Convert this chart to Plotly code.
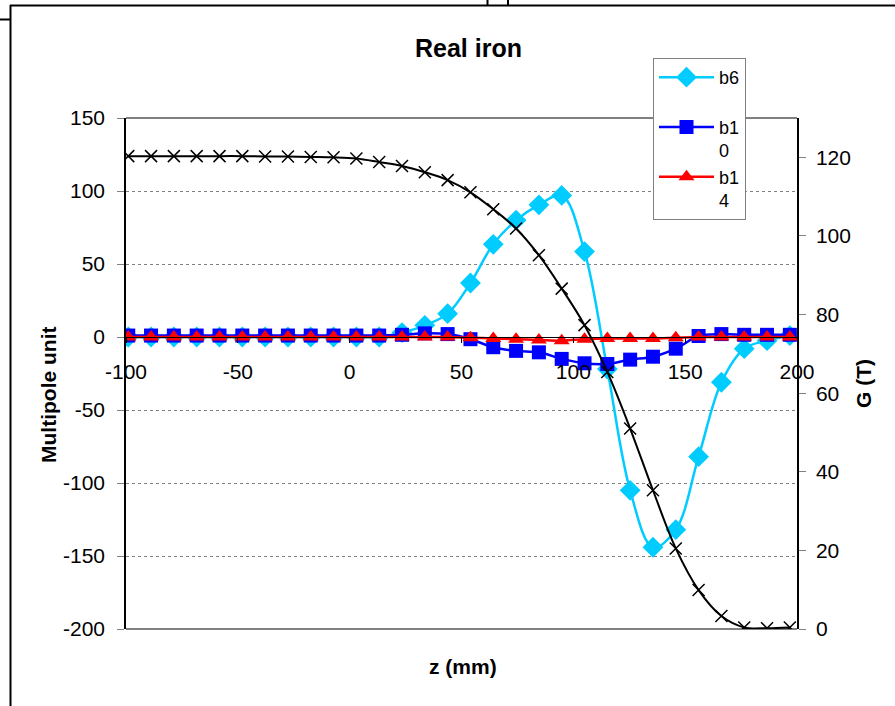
import plotly.graph_objects as go

# ---- data ----
z_mm = [-99, -88.8, -78.6, -68.4, -58.2, -48, -37.8, -27.6, -17.4, -7.2,
        3, 13.2, 23.4, 33.6, 43.8, 54, 64.2, 74.4, 84.6, 94.8,
        105, 115.2, 125.4, 135.6, 145.8, 156, 166.2, 176.4, 186.6, 196.8]
b6 = [0, 0, 0, 0, 0, 0, 0, 0, 0, 0,
      0, 0, 3, 8, 16, 37, 63.5, 80, 90.5, 97,
      58.5, -22, -105, -144, -132, -82, -31, -8, -2.5, 1]
b10 = [1, 1, 1, 1, 1, 1, 1, 1, 1, 1,
       1, 1, 1.5, 2.5, 2, -1.5, -7, -9.5, -10.5, -15,
       -18, -18.5, -15.5, -13.5, -8, 0.7, 2, 1.5, 1.5, 1.5]
b14 = [0, 0, 0, 0, 0, 0, 0, 0, 0, 0,
       0, 0, 0, 0, 0, -0.5, -1, -1.5, -2, -2.5,
       -1.5, -1, -1, -1, -0.5, 0, 0, 0, 0, 0]
G_T = [120.3, 120.3, 120.3, 120.3, 120.3, 120.3, 120.2, 120.2, 120.1, 120.0,
       119.7, 118.8, 117.8, 116.2, 114.2, 111.1, 106.8, 101.9, 95.1, 86.6,
       77.3, 65.4, 51, 35.3, 20.5, 9.9, 3.3, 0.4, 0.2, 0.4]

left_ticks = [-200, -150, -100, -50, 0, 50, 100, 150]
left_labels = ["-200", "-150", "-100", "-50", "0", "50", "100", "150"]
right_ticks = [0, 20, 40, 60, 80, 100, 120]
right_labels = ["0", "20", "40", "60", "80", "100", "120"]
x_ticks = [-100, -50, 0, 50, 100, 150, 200]
x_labels = ["-100", "-50", "0", "50", "100", "150", "200"]

FONT = "Liberation Sans, Arial, sans-serif"
W, H = 895, 706
L, R, T, B = 126, 797, 118, 629   # plot area in pixels


def px(x):
    return (x - L) / (R - L)


def py(y):
    return (B - y) / (B - T)


fig = go.Figure()
fig.add_trace(go.Scatter(x=z_mm, y=b6, name="b6<br>&nbsp;", mode="lines+markers",
                         line=dict(color="#00CCFF", width=2.5, shape="spline"),
                         marker=dict(symbol="diamond", size=16, color="#00CCFF")))
fig.add_trace(go.Scatter(x=z_mm, y=b10, name="b1<br>0", mode="lines+markers",
                         line=dict(color="#0000FF", width=2.5, shape="spline"),
                         marker=dict(symbol="square", size=14, color="#0000FF")))
fig.add_trace(go.Scatter(x=z_mm, y=b14, name="b1<br>4", mode="lines+markers",
                         line=dict(color="#FF0000", width=2.5, shape="spline"),
                         marker=dict(symbol="triangle-up", size=14, color="#FF0000")))
fig.add_trace(go.Scatter(x=z_mm, y=G_T, name="G", mode="lines+markers", yaxis="y2",
                         showlegend=False,
                         line=dict(color="black", width=2, shape="spline"),
                         marker=dict(symbol="x-thin", size=12,
                                     line=dict(color="black", width=1.5))))

fig.update_layout(
    width=W, height=H,
    margin=dict(l=L, r=W - R, t=T, b=H - B, pad=0),
    paper_bgcolor="white", plot_bgcolor="white",
    font=dict(family=FONT, size=21, color="black"),
    showlegend=True,
    legend=dict(x=px(653), y=py(58), xanchor="left", yanchor="top",
                bgcolor="white", bordercolor="#808080", borderwidth=1,
                font=dict(size=18), valign="top", tracegroupgap=0,
                itemwidth=55),
    xaxis=dict(range=[-100, 200], tickvals=x_ticks, ticktext=x_labels, anchor="free",
               position=200 / 350, showline=True, linecolor="black", linewidth=1,
               ticks="outside", ticklen=5, tickcolor="black",
               ticklabelstandoff=11, showgrid=False, zeroline=False,
               tickfont=dict(size=21)),
    yaxis=dict(range=[-200, 150], tickvals=left_ticks, ticktext=left_labels,
               showline=True,
               linecolor="black", linewidth=1.5, ticks="outside", ticklen=7,
               tickcolor="#808080", ticklabelstandoff=8,
               showgrid=True, gridcolor="#808080", griddash="dot", gridwidth=1,
               zeroline=False, tickfont=dict(size=21)),
    yaxis2=dict(range=[0, 130], tickvals=right_ticks, ticktext=right_labels,
                overlaying="y", side="right",
                showline=True, linecolor="black", linewidth=1.5, ticks="outside",
                ticklen=7, tickcolor="#808080", ticklabelstandoff=6,
                showgrid=False, zeroline=False, tickfont=dict(size=21)),
    yaxis3=dict(range=[0, 130], tickvals=right_ticks, overlaying="y", side="right",
                anchor="x", showline=False, ticks="inside", ticklen=7,
                tickcolor="#808080", showticklabels=False, showgrid=False,
                zeroline=False),
)

# plot-area top and bottom borders (grey)
for yy in (T, B):
    fig.add_shape(type="line", xref="paper", yref="paper",
                  x0=0, x1=1, y0=py(yy), y1=py(yy),
                  line=dict(color="#808080", width=2), layer="below")

# outer frame lines of the page
frame = [((10, 5.5), (W, 5.5)), ((10.5, 5), (10.5, H)), ((0, 19.5), (10, 19.5)),
         ((487.5, 0), (487.5, 5)), ((508, 0), (508, 5))]
for (x0, y0), (x1, y1) in frame:
    fig.add_shape(type="line", xref="paper", yref="paper",
                  x0=px(x0), x1=px(x1), y0=py(y0), y1=py(y1),
                  line=dict(color="black", width=2))

annos = [
    dict(text="<b>Real iron</b>", x=469, y=48, size=25, angle=0),
    dict(text="<b>Multipole unit</b>", x=48, y=395, size=21, angle=-90),
    dict(text="<b>G (T)</b>", x=863, y=384, size=21, angle=-90),
    dict(text="<b>z (mm)</b>", x=463, y=666, size=21, angle=0),
]
for a in annos:
    fig.add_annotation(text=a["text"], x=px(a["x"]), y=py(a["y"]), xref="paper",
                       yref="paper", showarrow=False, textangle=a["angle"],
                       xanchor="center", yanchor="middle",
                       font=dict(size=a["size"], family=FONT, color="black"))

fig.write_html("out.html", config={"displayModeBar": False},
               post_script="document.body.style.margin='0';")
